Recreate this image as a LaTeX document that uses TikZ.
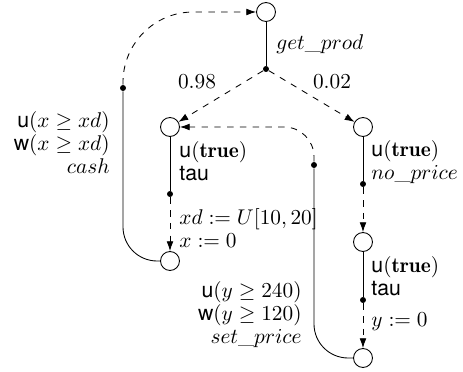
\documentclass[tikz,border=0pt]{standalone}
\usepackage{fontspec}
\setsansfont{TeX Gyre Heros}
\usetikzlibrary{arrows.meta}
\begin{document}
\begin{tikzpicture}[x=0.4695pt,y=-0.4695pt,
  state/.style={circle,draw,inner sep=0pt,minimum size=8.9pt},
  dot/.style={circle,fill,inner sep=0pt,minimum size=2.8pt},
  arr/.style={dashed,-{Latex[length=4.6pt,width=3.2pt]}},
  lbl/.style={inner sep=0pt,font=\fontsize{10}{10.8}\selectfont}]
\useasboundingbox (0,0) rectangle (463,372);
\node[state] (top) at (266,12) {};
\node[state] (A) at (170,127) {};
\node[state] (B) at (363,127) {};
\node[state] (C) at (170,261) {};
\node[state] (D) at (363,242) {};
\node[state] (E) at (363,358) {};
\node[dot] (p0) at (266,69) {};
\node[dot] (p1) at (170,194) {};
\node[dot] (p2) at (363,184) {};
\node[dot] (p3) at (363,300) {};
\node[dot] (pc) at (123,88) {};
\node[dot] (ps) at (314,165) {};
\draw (top) -- (p0);
\draw[arr] (p0) -- (A);
\draw[arr] (p0) -- (B);
\draw (A) -- (p1);
\draw[arr] (p1) -- (C);
\draw (B) -- (p2);
\draw[arr] (p2) -- (D);
\draw (D) -- (p3);
\draw[arr] (p3) -- (E);
\draw[rounded corners=16pt] (C.west) -| (pc);
\draw[arr,rounded corners=33pt] (pc) |- (top);
\draw[rounded corners=16pt] (E.west) -| (ps);
\draw[arr,rounded corners=14pt] (ps) |- (A);
\node[lbl,anchor=west] (lgp) at (276,44) {$get\_prod$};
\node[lbl] (l98) at (197,82) {$0.98$};
\node[lbl] (l02) at (332,82) {$0.02$};
\node[lbl,anchor=west,align=left] (lA) at (179,161) {\textsf{u}$(\mathbf{true})$\\\textsf{tau}};
\node[lbl,anchor=west,align=left] (lA2) at (179,228) {$xd := U[10,20]$\\$x := 0$};
\node[lbl,anchor=west,align=left] (lB) at (371,162) {\textsf{u}$(\mathbf{true})$\\$no\_price$};
\node[lbl,anchor=west,align=left] (lD) at (371,276) {\textsf{u}$(\mathbf{true})$\\\textsf{tau}};
\node[lbl,anchor=west] (lE) at (371,322) {$y := 0$};
\node[lbl,anchor=east,align=right] (lc) at (110,143) {\textsf{u}$(x\geq xd)$\\\textsf{w}$(x\geq xd)$\\$cash$};
\node[lbl,anchor=east,align=right] (ls) at (302,315) {\textsf{u}$(y\geq 240)$\\\textsf{w}$(y\geq 120)$\\$set\_price$};
\end{tikzpicture}
\end{document}
